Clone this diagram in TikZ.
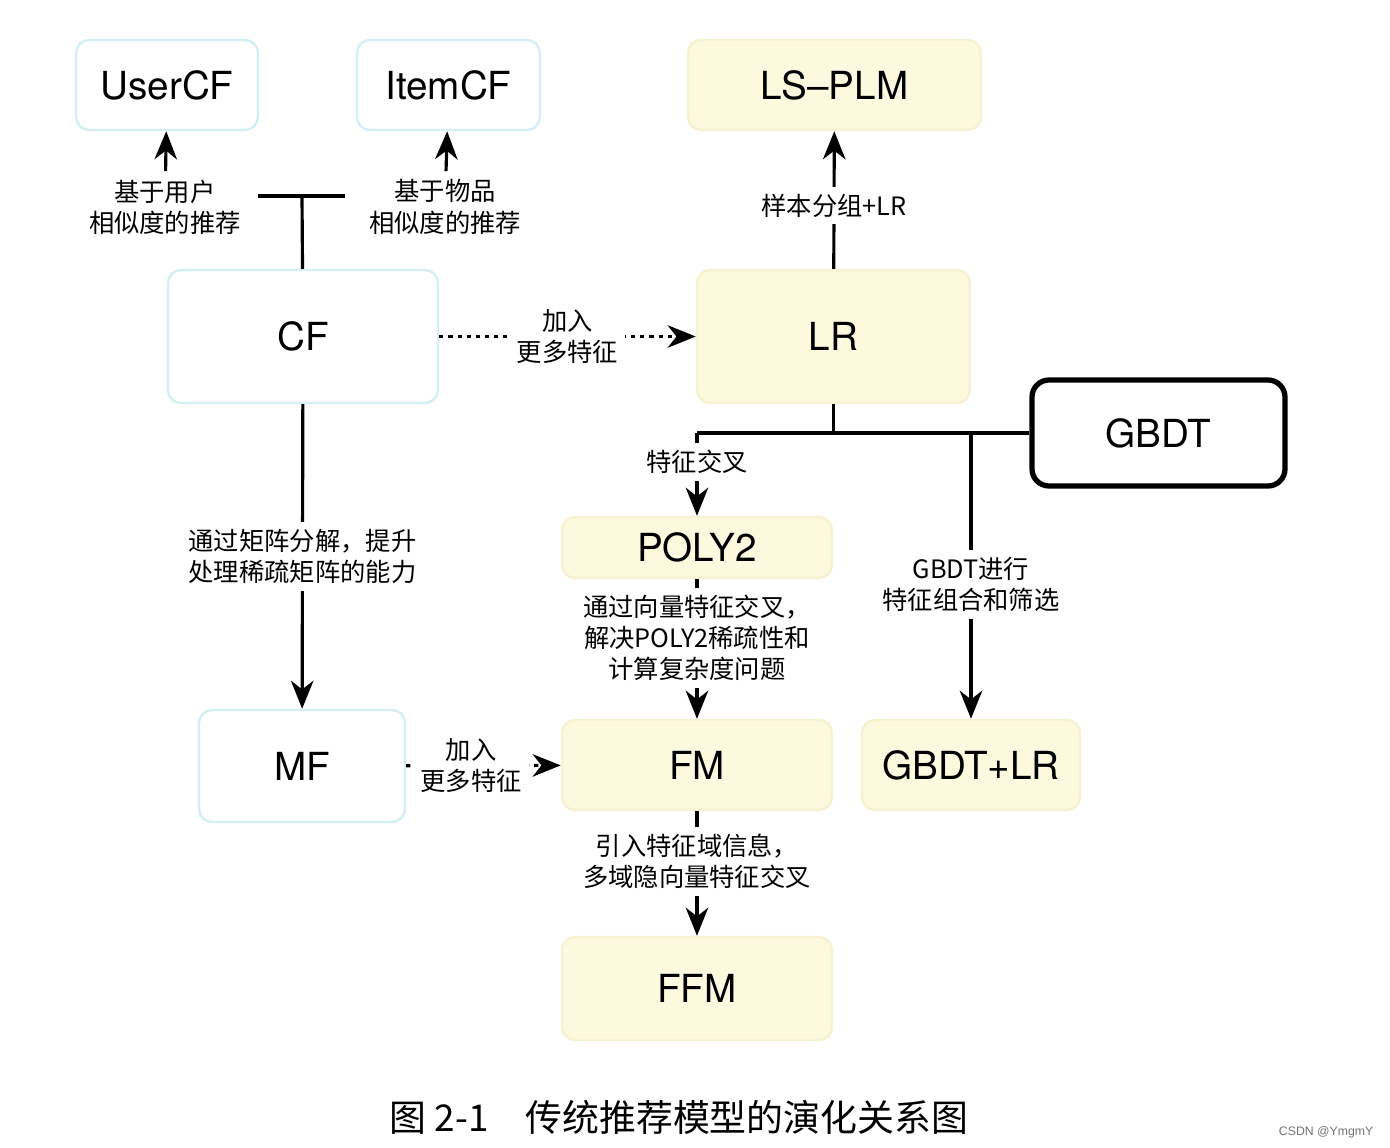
\documentclass[tikz,border=0pt]{standalone}
\usepackage{fontspec}
\setmainfont{TeX Gyre Heros}
\newfontfamily\cjk{Noto Sans CJK SC}
\newfontfamily\wmfont{Liberation Sans}
\usetikzlibrary{arrows.meta}
\definecolor{cfline}{RGB}{212,239,245}
\definecolor{lrfill}{RGB}{252,249,223}
\definecolor{lrline}{RGB}{248,241,210}

\begin{document}
\begin{tikzpicture}[line width=0.9pt,
    cfbox/.style={draw=cfline,line width=0.7pt,fill=white,rounded corners=0.13cm,inner sep=0pt,font=\fontsize{11}{13}\selectfont},
    lrbox/.style={draw=lrline,line width=0.7pt,fill=lrfill,rounded corners=0.13cm,inner sep=0pt,font=\fontsize{11}{13}\selectfont},
    gbox/.style={draw=black,line width=1.5pt,fill=white,rounded corners=0.17cm,inner sep=0pt,font=\fontsize{11}{13}\selectfont},
    lbl/.style={fill=white,align=center,inner sep=2pt,font=\cjk\fontsize{7.2}{8.9}\selectfont},
    arr/.style={-{Stealth[length=8pt,width=6.4pt,inset=2.5pt]}},
    dots/.style={dash pattern=on 1.2pt off 1.4pt}]
        \useasboundingbox (0,0) rectangle (13.9,-11.48);

        \node[cfbox,minimum width=1.82cm,minimum height=0.9cm] (user) at (1.67,-0.85) {UserCF};
        \node[cfbox,minimum width=1.83cm,minimum height=0.9cm] (item) at (4.485,-0.85) {ItemCF};
        \node[lrbox,minimum width=2.93cm,minimum height=0.9cm] (lsplm) at (8.345,-0.85) {LS--PLM};
        \node[cfbox,minimum width=2.7cm,minimum height=1.33cm] (cf) at (3.03,-3.365) {CF};
        \node[lrbox,minimum width=2.73cm,minimum height=1.33cm] (lr) at (8.335,-3.365) {LR};
        \node[gbox,minimum width=2.53cm,minimum height=1.06cm] (gbdt) at (11.585,-4.33) {GBDT};
        \node[lrbox,minimum width=2.7cm,minimum height=0.61cm] (poly) at (6.97,-5.475) {POLY2};
        \node[cfbox,minimum width=2.06cm,minimum height=1.12cm] (mf) at (3.02,-7.66) {MF};
        \node[lrbox,minimum width=2.7cm,minimum height=0.9cm] (fm) at (6.97,-7.65) {FM};
        \node[lrbox,minimum width=2.18cm,minimum height=0.9cm] (gbdtlr) at (9.71,-7.65) {GBDT+LR};
        \node[lrbox,minimum width=2.7cm,minimum height=1.03cm] (ffm) at (6.97,-9.885) {FFM};

        % CF -> UserCF / ItemCF
        \node[lbl] (luser) at (1.65,-2.07) {基于用户\\相似度的推荐};
        \node[lbl] (litem) at (4.45,-2.07) {基于物品\\相似度的推荐};
        \coordinate (split) at (3.02,-1.96);
        \draw (cf) -- (split);
        \draw ([xshift=0.08cm]luser.east |- split) -- ([xshift=-0.15cm]litem.west |- split);
        \draw[arr] (luser) -- (user);
        \draw[arr] (litem) -- (item);

        % LR -> LS-PLM
        \draw[arr] (lr) -- node[lbl,pos=0.46] {样本分组+LR} (lsplm);

        % dotted: more features
        \draw[arr,dots] (cf) -- node[lbl] {加入\\更多特征} (lr);
        \draw[arr,dots] (mf) -- node[lbl,pos=0.42] {加入\\更多特征} (fm);

        % LR / GBDT branch
        \draw (lr) -- (lr.south |- gbdt.west);
        \draw (gbdt) -- (gbdt.west -| poly.north);
        \draw[arr] (gbdt.west -| poly.north) -- node[lbl,pos=0.35] {特征交叉} (poly);
        \draw[arr] (gbdt.west -| gbdtlr.north) -- node[lbl,pos=0.53] {GBDT进行\\特征组合和筛选} (gbdtlr);

        % CF -> MF
        \draw[arr] (cf) -- node[lbl] {通过矩阵分解，提升\\处理稀疏矩阵的能力} (mf);

        % POLY2 -> FM -> FFM
        \draw[arr] (poly) -- node[lbl,pos=0.42] {通过向量特征交叉，\\解决POLY2稀疏性和\\计算复杂度问题} (fm);
        \draw[arr] (fm) -- node[lbl,pos=0.4] {引入特征域信息，\\多域隐向量特征交叉} (ffm);

        \node[anchor=west,inner sep=0pt,font=\cjk\fontsize{10.5}{12}\selectfont] (cap) at (3.88,-11.17) {图 2-1\hspace{1em}传统推荐模型的演化关系图};
        \node[anchor=east,inner sep=0pt,text=black!55,font=\wmfont\fontsize{3.5}{4}\selectfont] (wm) at (13.75,-11.32) {CSDN @YmgmY};
\end{tikzpicture}
\end{document}
